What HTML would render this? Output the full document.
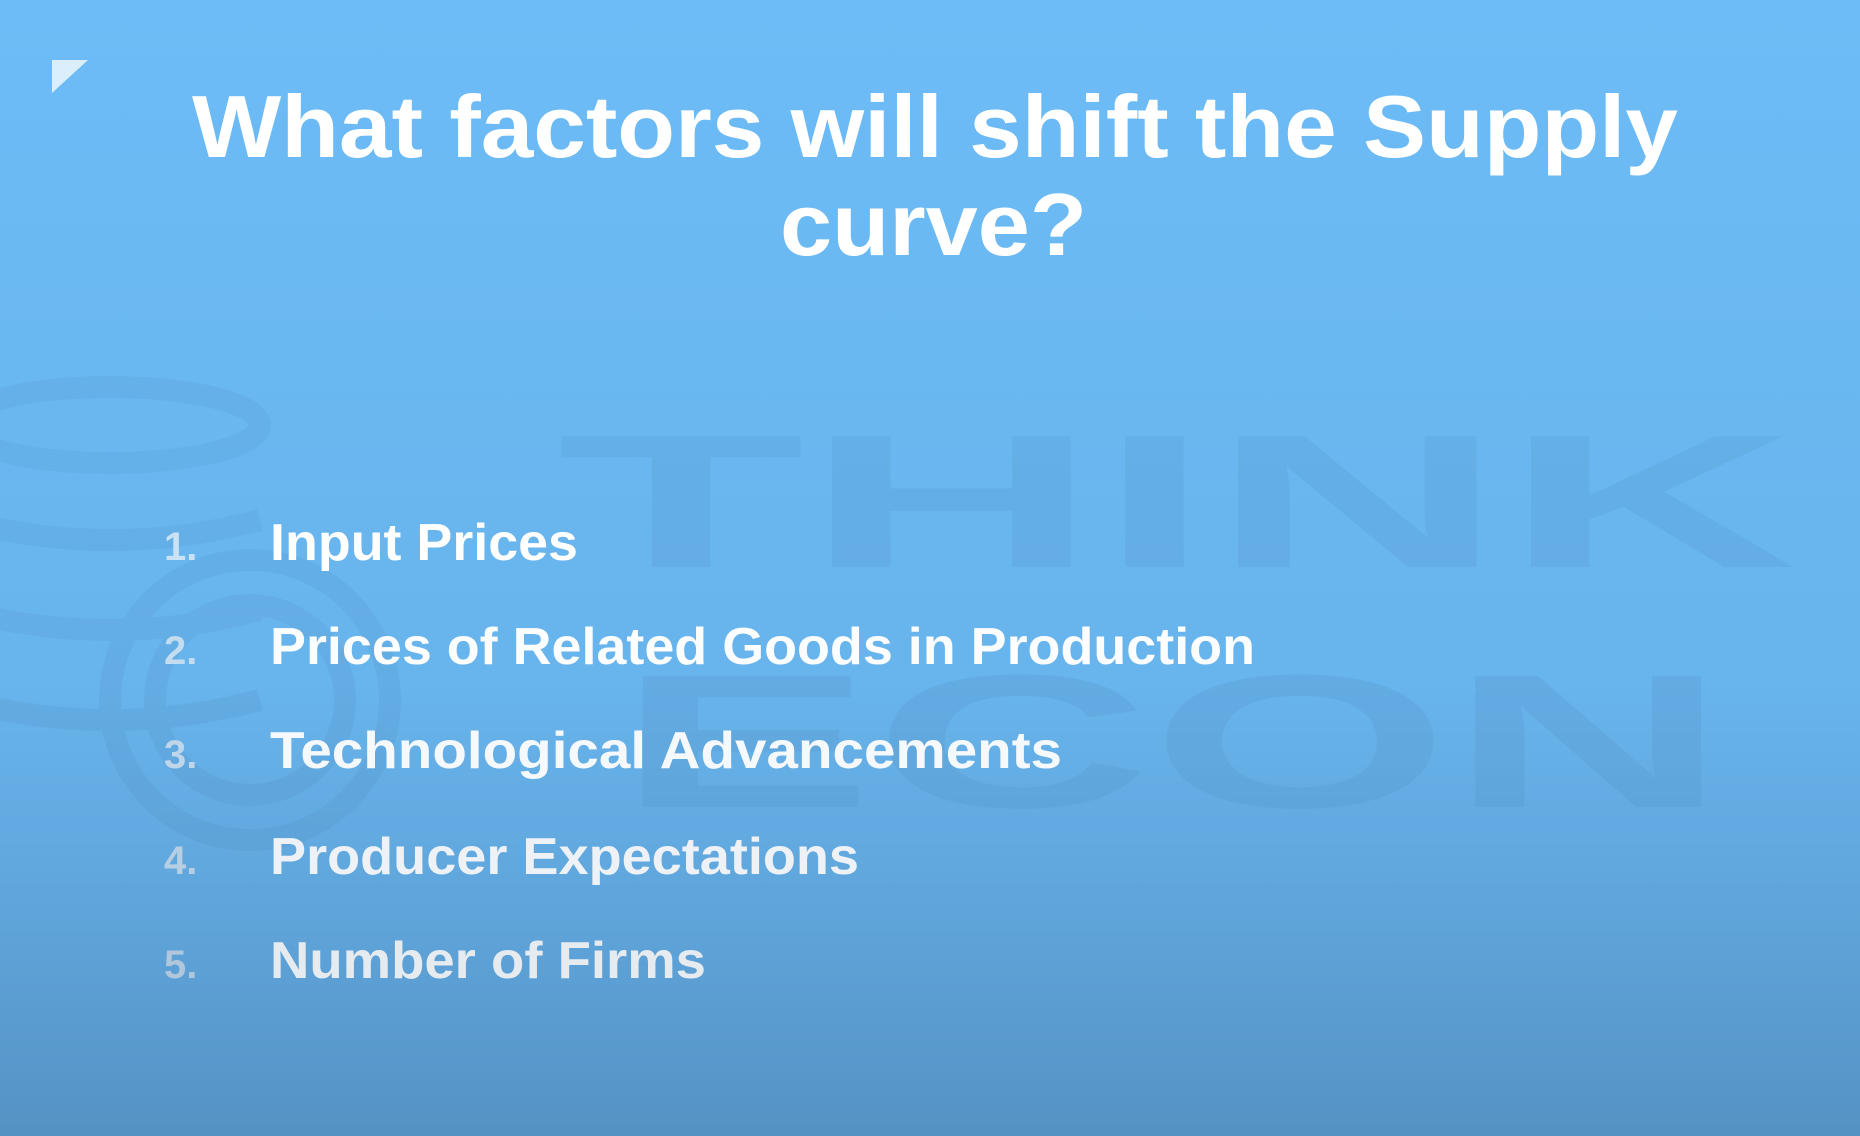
<!DOCTYPE html>
<html><head><meta charset="utf-8">
<style>
html,body{margin:0;padding:0;width:1860px;height:1136px;overflow:hidden}
svg{display:block}
text{font-family:"Liberation Sans",sans-serif;font-weight:bold}
</style></head>
<body>
<svg width="1860" height="1136" viewBox="0 0 1860 1136">
<defs>
<linearGradient id="bg" x1="0" y1="0" x2="0" y2="1">
<stop offset="0" stop-color="#6dbcf7"/>
<stop offset="0.6" stop-color="#68b4ec"/>
<stop offset="0.8" stop-color="#5fa5db"/>
<stop offset="1" stop-color="#5592c4"/>
</linearGradient>
</defs>
<rect width="1860" height="1136" fill="url(#bg)"/>
<polygon points="52,60 88,60 52,93" fill="#dbeefc"/>
<g opacity="0.06" fill="#1b3f66">
<text x="557" y="567" font-size="190" textLength="1240" lengthAdjust="spacingAndGlyphs" font-family="Liberation Sans">THINK</text>
<text x="617" y="807" font-size="190" textLength="1110" lengthAdjust="spacingAndGlyphs" font-family="Liberation Sans">ECON</text>
</g>
<g opacity="0.05" fill="none" stroke="#1b3f66" stroke-width="22">
<ellipse cx="110" cy="425" rx="150" ry="38"/>
<path d="M-40 520 Q110 560 260 520 M-40 610 Q110 650 260 610 M-40 700 Q110 740 260 700"/>
<circle cx="250" cy="700" r="140"/>
<circle cx="250" cy="700" r="95"/>
</g>
<g fill="#ffffff">
<text x="192" y="157" font-size="88" textLength="1486" lengthAdjust="spacingAndGlyphs">What factors will shift the Supply</text>
<text x="780" y="255" font-size="88" textLength="307" lengthAdjust="spacingAndGlyphs">curve?</text>
</g>
<g font-size="52">
<text x="164" y="560" fill="#c9e2f6" font-size="40">1.</text>
<text x="270" y="560" fill="#ffffff" textLength="308" lengthAdjust="spacingAndGlyphs">Input Prices</text>
<text x="164" y="664" fill="#c4dcf0" font-size="40">2.</text>
<text x="270" y="664" fill="#fbfdff" textLength="985" lengthAdjust="spacingAndGlyphs">Prices of Related Goods in Production</text>
<text x="164" y="768" fill="#bfd6ea" font-size="40">3.</text>
<text x="270" y="768" fill="#f6f9fc" textLength="792" lengthAdjust="spacingAndGlyphs">Technological Advancements</text>
<text x="164" y="874" fill="#b8cee2" font-size="40">4.</text>
<text x="270" y="874" fill="#eef2f6" textLength="589" lengthAdjust="spacingAndGlyphs">Producer Expectations</text>
<text x="164" y="978" fill="#b0c6da" font-size="40">5.</text>
<text x="270" y="978" fill="#e6ebf0" textLength="436" lengthAdjust="spacingAndGlyphs">Number of Firms</text>
</g>
</svg>
</body></html>
